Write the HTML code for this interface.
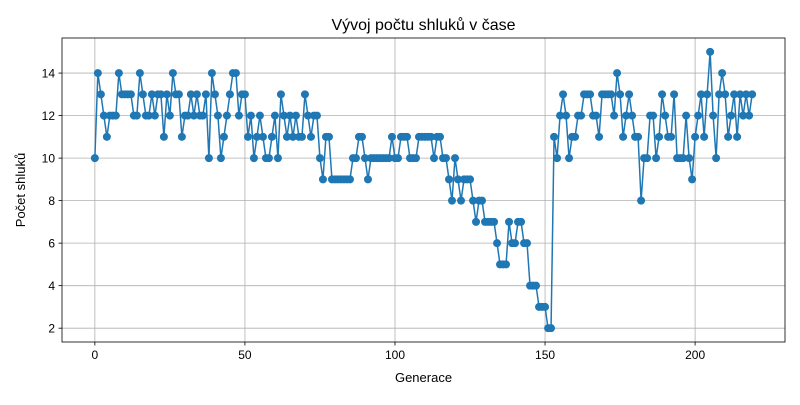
<!DOCTYPE html>
<html><head><meta charset="utf-8"><style>
body{margin:0;background:#fff;font-family:"Liberation Sans","DejaVu Sans",sans-serif}
</style></head><body>
<svg id="chart" width="800" height="400" xmlns="http://www.w3.org/2000/svg"></svg>
<script>
const values=[10,14,13,12,11,12,12,12,14,13,13,13,13,12,12,14,13,12,12,13,12,13,13,11,13,12,14,13,13,11,12,12,13,12,13,12,12,13,10,14,13,12,10,11,12,13,14,14,12,13,13,11,12,10,11,12,11,10,10,11,12,10,13,12,11,12,11,12,11,11,13,12,11,12,12,10,9,11,11,9,9,9,9,9,9,9,10,10,11,11,10,9,10,10,10,10,10,10,10,11,10,10,11,11,11,10,10,10,11,11,11,11,11,10,11,11,10,10,9,8,10,9,8,9,9,9,8,7,8,8,7,7,7,7,6,5,5,5,7,6,6,7,7,6,6,4,4,4,3,3,3,2,2,11,10,12,13,12,10,11,11,12,12,13,13,13,12,12,11,13,13,13,13,12,14,13,11,12,13,12,11,11,8,10,10,12,12,10,11,13,12,11,11,13,10,10,10,12,10,9,11,12,13,11,13,15,12,10,13,14,13,11,12,13,11,13,12,13,12,13];
const xTicks=[0,50,100,150,200];
const yTicks=[2,4,6,8,10,12,14];
const L=62,R=785,T=38,B=342;
const xmin=-10.95,xmax=229.95,ymin=1.35,ymax=15.65;
const sx=v=>L+(v-xmin)/(xmax-xmin)*(R-L);
const sy=v=>B-(v-ymin)/(ymax-ymin)*(B-T);
const svg=document.getElementById('chart');
const NS='http://www.w3.org/2000/svg';
function mk(t,a,txt){const e=document.createElementNS(NS,t);for(const k in a)e.setAttribute(k,a[k]);if(txt!=null)e.textContent=txt;svg.appendChild(e);return e;}
xTicks.forEach(v=>{const x=sx(v);
const g=mk('line',{x1:x,x2:x,y1:T,y2:B,stroke:'#b0b0b0','stroke-width':0.8});


mk('line',{x1:x,x2:x,y1:B,y2:B+3.5,stroke:'#000','stroke-width':0.8});
const t=mk('text',{x:x,y:B+17,'font-size':12,'text-anchor':'middle'},String(v));

});
yTicks.forEach(v=>{const y=sy(v);
const g=mk('line',{x1:L,x2:R,y1:y,y2:y,stroke:'#b0b0b0','stroke-width':0.8});


mk('line',{x1:L-3.5,x2:L,y1:y,y2:y,stroke:'#000','stroke-width':0.8});
const t=mk('text',{x:L-7,y:y+4.5,'font-size':12,'text-anchor':'end'},String(v));

});
const pts=values.map((v,i)=>sx(i).toFixed(2)+','+sy(v).toFixed(2)).join(' ');
const line=mk('polyline',{points:pts,fill:'none',stroke:'#1f77b4','stroke-width':1.5});


values.forEach((v,i)=>{const c=mk('circle',{cx:sx(i),cy:sy(v),r:4,fill:'#1f77b4'});

});
const fr=mk('rect',{x:L,y:T,width:R-L,height:B-T,fill:'none',stroke:'#000','stroke-width':0.8});


const ti=mk('text',{x:(L+R)/2,y:30,'font-size':16,'text-anchor':'middle'},'Vývoj počtu shluků v čase');


const xl=mk('text',{x:(L+R)/2,y:382,'font-size':13,'text-anchor':'middle'},'Generace');


const yl=mk('text',{x:25,y:(T+B)/2,'font-size':13,'text-anchor':'middle',transform:'rotate(-90 25 '+((T+B)/2)+')'},'Počet shluků');


</script>
</body></html>
